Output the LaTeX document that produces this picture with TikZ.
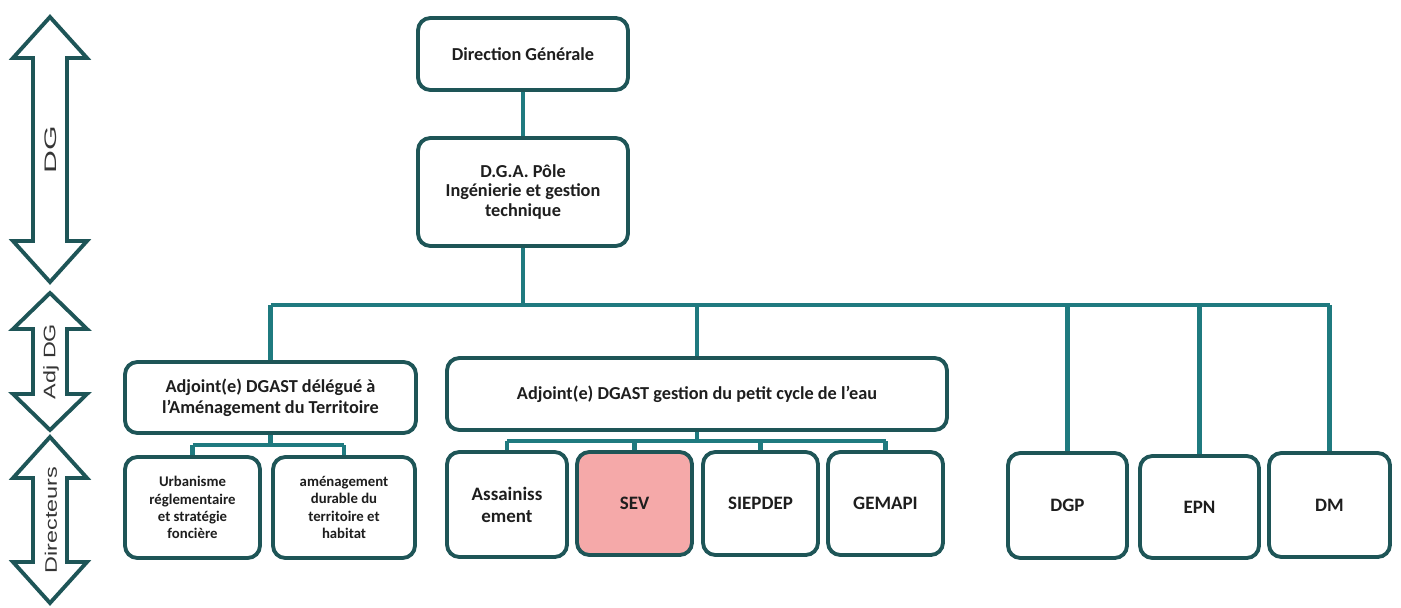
\documentclass[tikz,border=0pt]{standalone}
\usepackage{fontspec}
\setmainfont{Carlito}
\newfontfamily\arialfont{Liberation Sans}
\usetikzlibrary{calc}
\definecolor{boxline}{HTML}{1E5557}
\definecolor{linkline}{HTML}{1F7A7F}
\definecolor{sevpink}{HTML}{F5A9A9}
\definecolor{txt}{HTML}{1E1E1E}

\begin{document}
\begin{tikzpicture}[x=0.02cm, y=-0.02cm,
  box/.style={draw=boxline, line width=2.2pt, rounded corners=7pt, fill=white, align=center,
    text=txt, inner sep=2pt, font=\bfseries\fontsize{10.4}{12}\selectfont},
  subbox/.style={box, font=\bfseries\fontsize{8.4}{9.8}\selectfont},
  dirbox/.style={box, font=\bfseries\fontsize{10.8}{12.5}\selectfont},
  link/.style={draw=linkline, line width=2.4pt},
  lvl/.style={draw=boxline, line width=2.2pt, fill=white, line join=miter},
  lvltext/.style={text=txt!90, font=\arialfont\fontsize{9.5}{11}\selectfont, inner sep=0pt}]
  \useasboundingbox (0,0) rectangle (1401,608);

  % Levels on the left
  \foreach \t/\b/\hl/\sc/\lab [count=\i] in {17/282/41/1.9/DG, 293/430/36/1.4/Adj DG, 437/603/41/1.4/Directeurs}{
    \draw[lvl] (50,\t) -- (87,{\t+\hl}) -- (67,{\t+\hl}) -- (67,{\b-\hl}) -- (87,{\b-\hl})
      -- (50,\b) -- (13,{\b-\hl}) -- (33,{\b-\hl}) -- (33,{\t+\hl}) -- (13,{\t+\hl}) -- cycle;
    \node[lvltext, rotate=90, xscale=\sc] (lvl\i) at (51,{(\t+\b)/2}) {\lab};
  }

  % Direction
  \node[box, minimum width=4.2cm, minimum height=1.44cm] (dg) at (523,54) {Direction Générale};
  \node[box, minimum width=4.2cm, minimum height=2.16cm, font=\bfseries\fontsize{10.4}{11.2}\selectfont] (dga) at (523,192) {D.G.A. Pôle\\Ingénierie et gestion\\technique};

  % Adjoints
  \node[box, minimum width=5.82cm, minimum height=1.42cm] (adj1) at (270.5,397.5) {Adjoint(e) DGAST délégué à\\l'Aménagement du Territoire};
  \node[box, minimum width=10cm, minimum height=1.44cm] (adj2) at (697,394) {Adjoint(e) DGAST gestion du petit cycle de l'eau};

  % Directeurs
  \node[subbox, minimum width=2.7cm, minimum height=2.02cm] (urb) at (192.5,507.5) {Urbanisme\\réglementaire\\et stratégie\\foncière};
  \node[subbox, minimum width=2.84cm, minimum height=2.02cm] (amen) at (344,507.5) {aménagement\\durable du\\territoire et\\habitat};
  \node[dirbox, minimum width=2.4cm, minimum height=2.1cm] (ass) at (507,504.5) {Assainiss\\ement};
  \node[dirbox, minimum width=2.3cm, minimum height=2.06cm, fill=sevpink] (sev) at (634.5,503.5) {SEV};
  \node[dirbox, minimum width=2.3cm, minimum height=2.06cm] (siep) at (760.5,503.5) {SIEPDEP};
  \node[dirbox, minimum width=2.3cm, minimum height=2.06cm] (gem) at (885.5,503.5) {GEMAPI};
  \node[dirbox, minimum width=2.38cm, minimum height=2.1cm] (dgp) at (1067.5,505.5) {DGP};
  \node[dirbox, minimum width=2.38cm, minimum height=2.04cm] (epn) at (1199.5,507) {EPN};
  \node[dirbox, minimum width=2.42cm, minimum height=2.08cm] (dm) at (1329.5,505) {DM};

  % Links
  \coordinate (bus) at (0,305);
  \coordinate (sub1) at (0,445);
  \coordinate (sub2) at (0,441);
  \draw[link] (dg) -- (dga);
  \draw[link] (dga.south) -- (dga.south |- bus);
  \draw[link] (adj1.north |- bus) -- (dm.north |- bus);
  \foreach \n in {adj1, adj2, dgp, epn, dm}
    \draw[link] (\n.north |- bus) -- (\n.north);
  \draw[link] (adj1.south) -- (adj1.south |- sub1);
  \draw[link] (urb.north |- sub1) -- (amen.north |- sub1);
  \foreach \n in {urb, amen}
    \draw[link] (\n.north |- sub1) -- (\n.north);
  \draw[link] (adj2.south) -- (adj2.south |- sub2);
  \draw[link] (ass.north |- sub2) -- (gem.north |- sub2);
  \foreach \n in {ass, sev, siep, gem}
    \draw[link] (\n.north |- sub2) -- (\n.north);
\end{tikzpicture}
\end{document}
